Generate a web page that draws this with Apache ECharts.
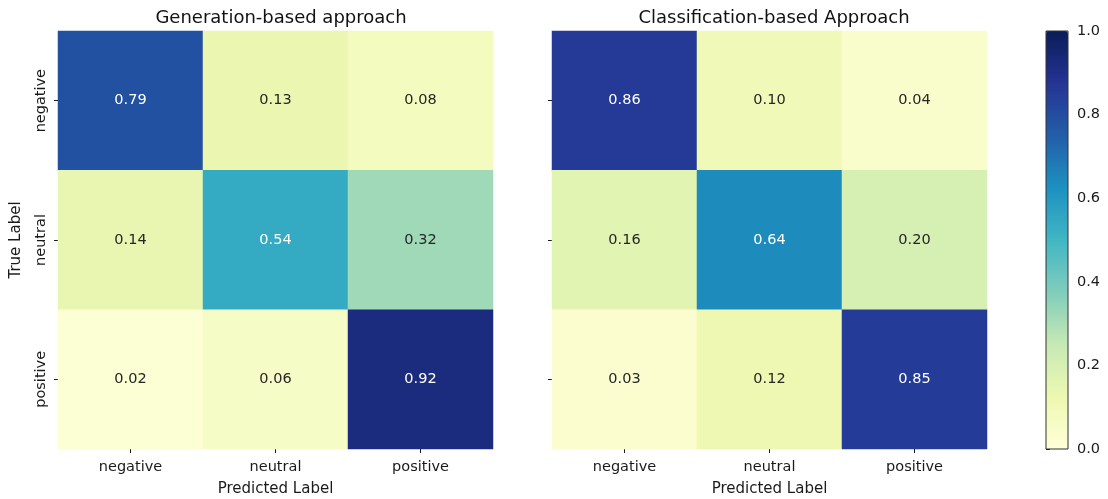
<!DOCTYPE html>
<html>
<head>
<meta charset="utf-8">
<script src="https://cdn.jsdelivr.net/npm/echarts@6/dist/echarts.min.js"></script>
<style>
  html, body { margin: 0; padding: 0; background: #fff; }
  #main { width: 1108px; height: 499px; }
</style>
</head>
<body>
<div id="main"></div>
<script>
// 类别 / 数据
var labels = ['negative', 'neutral', 'positive'];
var genMatrix = [
  [0.79, 0.13, 0.08],
  [0.14, 0.54, 0.32],
  [0.02, 0.06, 0.92]
];
var clsMatrix = [
  [0.86, 0.10, 0.04],
  [0.16, 0.64, 0.20],
  [0.03, 0.12, 0.85]
];
var titles = ['Generation-based approach', 'Classification-based Approach'];
var colorbarTicks = [0, 0.2, 0.4, 0.6, 0.8, 1.0];

// YlGnBu
var ylGnBu = ['#ffffd9', '#edf8b1', '#c7e9b4', '#7fcdbb', '#41b6c4',
  '#1d91c0', '#225ea8', '#253494', '#081d58'];

var font = 'DejaVu Sans';
var textColor = '#1a1a1a';
var cellDark = '#262626';

function toCells(matrix) {
  var out = [];
  matrix.forEach(function (row, y) {
    row.forEach(function (v, x) {
      out.push({
        value: [x, y, v],
        label: { color: v > 0.45 ? '#ffffff' : cellDark }
      });
    });
  });
  return out;
}

function xAxisFor(idx) {
  return {
    type: 'category',
    gridIndex: idx,
    data: labels,
    name: 'Predicted Label',
    nameLocation: 'middle',
    nameGap: 33,
    nameTextStyle: { color: textColor, fontFamily: font, fontSize: 15 },
    axisLine: { show: false },
    axisTick: { show: true, alignWithLabel: true, length: 4, lineStyle: { color: textColor } },
    axisLabel: { color: textColor, fontFamily: font, fontSize: 14.5, margin: 11 },
    splitLine: { show: false }
  };
}

function yAxisFor(idx, showLabel) {
  return {
    type: 'category',
    gridIndex: idx,
    data: labels,
    inverse: true,
    name: showLabel ? 'True Label' : '',
    nameLocation: 'middle',
    nameGap: 34,
    nameRotate: 90,
    nameTextStyle: { color: textColor, fontFamily: font, fontSize: 15 },
    axisLine: { show: false },
    axisTick: { show: true, alignWithLabel: true, length: 4, lineStyle: { color: textColor } },
    axisLabel: { show: showLabel, rotate: 90, color: textColor, fontFamily: font, fontSize: 14.5, margin: 9 },
    splitLine: { show: false }
  };
}

var cellLabel = { show: true, fontFamily: font, fontSize: 14.5, formatter: function (p) { return p.value[2].toFixed(2); } };

var myChart = echarts.init(document.getElementById('main'));
myChart.setOption({
  backgroundColor: '#fff',
  animation: false,
  title: [
    { text: titles[0], left: 276, top: 4, textAlign: 'center',
      textStyle: { fontFamily: font, fontSize: 18, fontWeight: 'normal', color: '#111' } },
    { text: titles[1], left: 769, top: 4, textAlign: 'center',
      textStyle: { fontFamily: font, fontSize: 18, fontWeight: 'normal', color: '#111' } }
  ],
  grid: [
    { left: 58, top: 31, width: 435, height: 418, outerBoundsMode: 'none' },
    { left: 552, top: 31, width: 435, height: 418, outerBoundsMode: 'none' },
    { left: 1046, top: 31, width: 22, height: 418, outerBoundsMode: 'none', show: true, z: 10,
      backgroundColor: 'transparent', borderColor: '#333', borderWidth: 1 }
  ],
  xAxis: [
    xAxisFor(0),
    xAxisFor(1),
    { type: 'value', gridIndex: 2, show: false, min: 0, max: 1 }
  ],
  yAxis: [
    yAxisFor(0, true),
    yAxisFor(1, false),
    { type: 'value', gridIndex: 2, position: 'right', min: colorbarTicks[0],
      max: colorbarTicks[colorbarTicks.length - 1], interval: 0.2,
      axisLine: { show: false },
      axisTick: { show: true, length: 4, lineStyle: { color: textColor } },
      axisLabel: { color: textColor, fontFamily: font, fontSize: 14.5, margin: 9,
        formatter: function (v) { return v.toFixed(1); } },
      splitLine: { show: false } }
  ],
  visualMap: {
    type: 'continuous',
    min: 0,
    max: 1,
    seriesIndex: [0, 1],
    calculable: false,
    showLabel: false,
    text: null,
    orient: 'vertical',
    left: 1046,
    top: 31,
    padding: 0,
    itemWidth: 22,
    itemHeight: 418,
    inRange: { color: ylGnBu }
  },
  series: [
    { type: 'heatmap', xAxisIndex: 0, yAxisIndex: 0, data: toCells(genMatrix), label: cellLabel },
    { type: 'heatmap', xAxisIndex: 1, yAxisIndex: 1, data: toCells(clsMatrix), label: cellLabel }
  ]
});
</script>
</body>
</html>
